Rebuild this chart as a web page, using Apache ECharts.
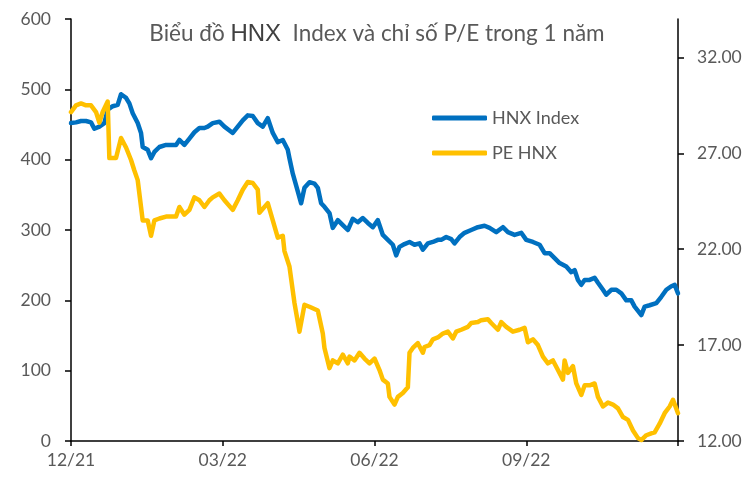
<!DOCTYPE html>
<html>
<head>
<meta charset="utf-8">
<script src="https://cdn.jsdelivr.net/npm/echarts@6/dist/echarts.min.js"></script>
<style>html,body{margin:0;padding:0;background:#fff}#c{width:754px;height:477px}</style>
</head>
<body>
<div id="c"></div>
<script>
// x = day offset from 12/21 (0..364)
const hnxDays = [0,3,6,9,12,14,17,20,22,25,28,30,33,35,37,40,42,43,46,48,50,53,57,63,65,68,71,74,77,80,82,85,89,92,97,100,103,106,109,112,115,118,121,124,127,130,131,133,136,138,140,143,146,148,150,152,155,157,160,163,166,169,172,175,178,181,184,187,190,193,195,197,200,203,206,209,211,214,217,220,222,225,228,230,233,236,240,244,248,251,255,259,262,266,270,273,277,281,284,287,290,293,294,297,300,302,304,306,308,311,314,316,319,321,324,327,330,333,336,338,342,344,347,351,354,357,360,362,364];
const hnxIndex = [452,453,455,455,453,444,447,452,471,476,478,493,488,480,466,452,438,418,414,402,411,418,421,421,428,421,430,439,445,445,447,452,454,447,438,447,456,463,462,452,447,459,438,425,428,414,402,380,355,338,360,368,366,360,338,333,324,303,314,307,300,316,311,317,310,304,314,293,286,279,264,276,280,283,279,281,272,281,283,286,286,290,287,281,290,296,300,304,306,303,297,304,297,293,296,286,283,279,267,267,260,253,255,248,240,243,229,222,229,229,232,225,215,208,215,215,210,200,200,191,179,191,193,196,205,215,220,222,210];

const peDays = [0,3,6,9,12,15,17,19,22,23,27,30,33,36,38,40,42,43,46,48,50,53,57,63,65,68,71,74,77,80,83,85,89,92,97,100,103,106,109,112,113,118,121,124,127,128,131,134,137,140,143,148,151,152,155,157,160,163,166,167,170,173,176,179,182,185,187,190,191,194,196,199,202,203,205,208,211,212,215,217,220,223,226,229,231,234,238,240,244,246,250,252,256,258,261,265,269,272,274,277,280,283,286,289,292,295,296,298,301,303,306,308,311,314,316,319,322,325,328,331,334,337,340,342,345,348,350,353,356,359,361,364];
const peHnx = [29.15,29.5,29.6,29.5,29.5,29.15,28.6,29.15,29.7,26.75,26.75,27.8,27.3,26.65,26.1,25.6,24.2,23.5,23.5,22.7,23.5,23.6,23.7,23.7,24.2,23.8,24.05,24.7,24.55,24.2,24.55,24.7,24.9,24.55,24.05,24.55,25.1,25.5,25.45,25.1,23.9,24.4,23.5,22.6,22.7,21.9,21.1,19.2,17.7,19.1,19.0,18.8,17.6,16.85,15.8,16.2,16.05,16.5,16.05,16.4,16.2,16.6,16.3,16.05,16.3,15.7,15.2,15.0,14.3,13.9,14.3,14.5,14.8,16.6,16.85,17.1,16.6,16.9,17.0,17.3,17.4,17.6,17.7,17.35,17.7,17.8,17.95,18.15,18.2,18.3,18.35,18.15,17.8,18.2,17.95,17.7,17.8,17.9,17.15,17.3,17.0,16.4,16.05,16.2,15.7,15.2,16.2,15.55,15.9,15.0,14.4,14.9,14.9,15.0,14.3,13.8,14.0,13.9,13.7,13.25,13.1,12.55,12.15,12.05,12.3,12.4,12.45,12.9,13.45,13.8,14.15,13.45];

const xTickLabels = ['12/21','03/22','06/22','09/22',''];
const rightTicks = [12,17,22,27,32];

const font = 'Lato, "Open Sans", sans-serif';
const gray = '#595959';
const chart = echarts.init(document.getElementById('c'));
chart.setOption({
  animation: false,
  backgroundColor: '#fff',
  title: {
    text: 'Biểu đồ {h|HNX}  Index và chỉ số P/E trong 1 năm',
    left: 'center', top: 17,
    textStyle: {
      color: gray, fontSize: 22.5, fontWeight: 'normal', fontFamily: font,
      rich: { h: { fontSize: 24, color: '#404040', fontFamily: '"Liberation Sans", Arial, sans-serif' } }
    }
  },
  legend: {
    orient: 'vertical', left: 427, top: 104, itemGap: 17,
    icon: 'roundRect', itemWidth: 55, itemHeight: 5,
    textStyle: { color: gray, fontSize: 18, fontFamily: font },
    data: ['HNX Index', 'PE HNX']
  },
  grid: { left: 71, right: 76, top: 19, bottom: 36 },
  xAxis: {
    type: 'value', min: 0, max: 364, interval: 91,
    axisLine: { lineStyle: { color: '#000', width: 1.5 } },
    axisTick: { show: true, length: 5, lineStyle: { color: '#000', width: 1.5 } },
    splitLine: { show: false },
    axisLabel: {
      color: gray, fontSize: 17.5, fontFamily: font, margin: 10,
      formatter: v => xTickLabels[Math.round(v / 91)] || ''
    }
  },
  yAxis: [
    {
      type: 'value', min: 0, max: 600, interval: 100,
      axisLine: { show: true, lineStyle: { color: '#000', width: 1.5 } },
      axisTick: { show: true, length: 6, lineStyle: { color: '#000', width: 1.5 } },
      splitLine: { show: false },
      axisLabel: { color: gray, fontSize: 17.5, fontFamily: font, margin: 20 }
    },
    {
      type: 'value', min: 12, max: 34,
      position: 'right',
      axisLine: { show: true, lineStyle: { color: '#000', width: 1.5 } },
      axisTick: { show: true, length: 6, customValues: rightTicks, lineStyle: { color: '#000', width: 1.5 } },
      splitLine: { show: false },
      axisLabel: {
        color: gray, fontSize: 17.5, fontFamily: font, margin: 19,
        customValues: rightTicks,
        formatter: v => v.toFixed(2)
      }
    }
  ],
  series: [
    {
      name: 'HNX Index', type: 'line', yAxisIndex: 0, showSymbol: false, symbol: 'none',
      lineStyle: { color: '#0070C0', width: 4.5, cap: 'round', join: 'round' },
      itemStyle: { color: '#0070C0' },
      data: hnxDays.map((d, i) => [d, hnxIndex[i]])
    },
    {
      name: 'PE HNX', type: 'line', yAxisIndex: 1, showSymbol: false, symbol: 'none',
      lineStyle: { color: '#FFC000', width: 4.5, cap: 'round', join: 'round' },
      itemStyle: { color: '#FFC000' },
      data: peDays.map((d, i) => [d, peHnx[i]])
    }
  ]
});
</script>
</body>
</html>
